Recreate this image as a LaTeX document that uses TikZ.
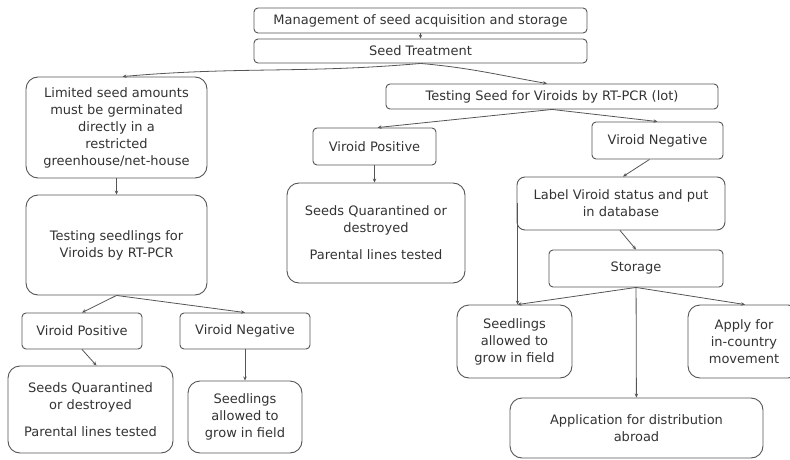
\documentclass[tikz,border=0pt]{standalone}
\usepackage{fontspec}
\setmainfont{DejaVu Sans}
\usetikzlibrary{arrows.meta}
\definecolor{linegray}{HTML}{555555}
\definecolor{textgray}{HTML}{333333}
\begin{document}
\begin{tikzpicture}[x=1pt,y=-1pt]
    \tikzset{every node/.style={font=\fontsize{13}{17}\selectfont, text=textgray},
        box/.style={draw=linegray, line width=0.9pt, rounded corners=4pt, align=center, inner sep=2pt},
        bigbox/.style={box, rounded corners=12pt},
        link/.style={draw=linegray, line width=0.8pt, -{Stealth[length=4pt,width=3.5pt]}}}
    \useasboundingbox (0,0) rectangle (790,460);
    % top (common steps)
    \node[box, minimum width=333pt, minimum height=25pt] (mgmt) at (420.5,20.5) {Management of seed acquisition and storage};
    \node[box, minimum width=333pt, minimum height=24pt] (treat) at (420.5,51) {Seed Treatment};
    % left branch (seedlings)
    \node[bigbox, minimum width=181pt, minimum height=101pt] (limited) at (116.5,127.5) {Limited seed amounts\\must be germinated\\directly in a\\restricted\\greenhouse/net-house};
    \node[bigbox, minimum width=181pt, minimum height=100pt] (testsdl) at (116.5,245) {Testing seedlings for\\Viroids by RT-PCR};
    \node[box, minimum width=120pt, minimum height=36pt] (vpos2) at (82,331) {Viroid Positive};
    \node[box, minimum width=130pt, minimum height=36pt] (vneg2) at (245,331) {Viroid Negative};
    \node[bigbox, minimum width=165pt, minimum height=87pt] (seedsq2) at (90.5,409.5) {Seeds Quarantined\\or destroyed\\[10pt]Parental lines tested};
    \node[bigbox, minimum width=114pt, minimum height=72pt] (seedl1) at (245,417) {Seedlings\\allowed to\\grow in field};
    % right branch (seed lot)
    \node[box, minimum width=332pt, minimum height=25pt] (testseed) at (552,96.5) {Testing Seed for Viroids by RT-PCR (lot)};
    \node[box, minimum width=123pt, minimum height=37pt] (vpos1) at (374.5,146.5) {Viroid Positive};
    \node[box, minimum width=131pt, minimum height=37pt] (vneg1) at (657.5,140.5) {Viroid Negative};
    \node[bigbox, minimum width=178pt, minimum height=100pt] (seedsq1) at (376,233) {Seeds Quarantined or\\destroyed\\[10pt]Parental lines tested};
    \node[box, rounded corners=8pt, minimum width=208pt, minimum height=53pt] (label) at (621,203.5) {Label Viroid status and put\\in database};
    \node[box, minimum width=174pt, minimum height=37pt] (storage) at (636,268.5) {Storage};
    \node[bigbox, minimum width=115pt, minimum height=73pt] (seedl2) at (514.5,341.5) {Seedlings\\allowed to\\grow in field};
    \node[bigbox, minimum width=112pt, minimum height=73pt] (apply) at (744,341.5) {Apply for\\in-country\\movement};
    \node[bigbox, minimum width=253pt, minimum height=60pt] (abroad) at (636.5,428) {Application for distribution\\abroad};
    % connectors
    \draw[link] (mgmt) -- (treat);
    \draw[link] (treat.south) to[out=185,in=5] ([xshift=6pt]limited.north);
    \draw[link] (treat.south) to[out=-5,in=170] ([xshift=-5pt]testseed.north);
    \draw[link] (limited) -- (testsdl);
    \draw[link] (testsdl.south) -- (vpos2.north);
    \draw[link] (testsdl.south) -- (vneg2.north);
    \draw[link] (vpos2.south) -- ([xshift=6pt]seedsq2.north);
    \draw[link] (vneg2) -- (seedl1);
    \draw[link] (testseed.south) -- ([xshift=3pt]vpos1.north);
    \draw[link] (testseed.south) -- (vneg1.north);
    \draw[link] (vpos1) -- (seedsq1.north -| vpos1.south);
    \draw[link] ([xshift=-8pt]vneg1.south) -- ([xshift=2pt]label.north);
    \draw[link] ([xshift=-1pt]label.south) -- (storage.north);
    \coordinate (sdltop) at ([xshift=1pt]label.south west |- seedl2.north);
    \draw[link] ([xshift=1pt,yshift=27pt]label.south west) -- (sdltop);
    \draw[link] (storage.south) -- (sdltop);
    \draw[link] (storage.south) -- ([xshift=1pt]apply.north);
    \draw[link] (storage) -- (abroad);
\end{tikzpicture}
\end{document}
